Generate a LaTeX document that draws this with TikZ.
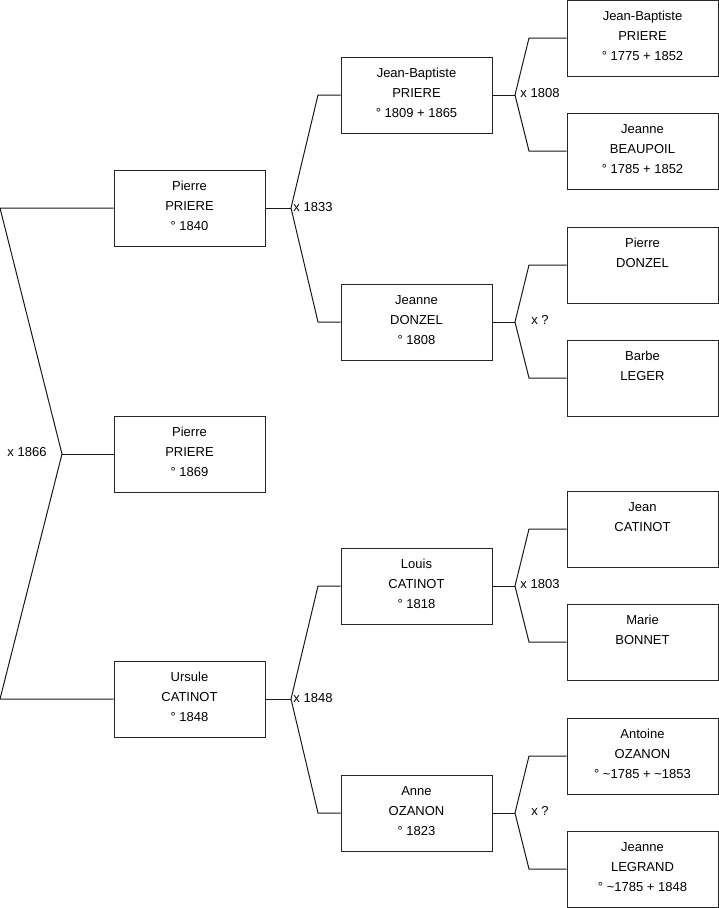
\documentclass[tikz,border=0pt]{standalone}
\usepackage{fontspec}
\setmainfont{Liberation Sans}
\newcommand\dpfix{\rule[-4.5pt]{0pt}{0pt}}
\begin{document}
\begin{tikzpicture}[x=1pt,y=-1pt]
\tikzset{
 person/.style={draw=black!85, line width=1pt, minimum width=151pt, minimum height=76pt, inner sep=0pt, align=center, font=\fontsize{13}{20}\selectfont},
 link/.style={draw=black!90, line width=1pt},
 mlabel/.style={font=\fontsize{13}{15}\selectfont, inner sep=0pt}
}
\useasboundingbox (0,0) rectangle (719,908);
% level 1
\node[person] (p1) at (189.5,208) {Pierre\\PRIERE\\° 1840\dpfix};
\node[person] (c)  at (189.5,454) {Pierre\\PRIERE\\° 1869\dpfix};
\node[person] (u1) at (189.5,699) {Ursule\\CATINOT\\° 1848\dpfix};
% level 2
\node[person] (jb) at (416.5,95)  {Jean-Baptiste\\PRIERE\\° 1809 + 1865\dpfix};
\node[person] (jd) at (416.5,322) {Jeanne\\DONZEL\\° 1808\dpfix};
\node[person] (lc) at (416.5,586) {Louis\\CATINOT\\° 1818\dpfix};
\node[person] (ao) at (416.5,813) {Anne\\OZANON\\° 1823\dpfix};
% level 3
\node[person] (jbp) at (642.5,38)  {Jean-Baptiste\\PRIERE\\° 1775 + 1852\dpfix};
\node[person] (jeb) at (642.5,151) {Jeanne\\BEAUPOIL\\° 1785 + 1852\dpfix};
\node[person] (pd)  at (642.5,265) {Pierre\\DONZEL\\\mbox{}\dpfix};
\node[person] (bl)  at (642.5,378) {Barbe\\LEGER\\\mbox{}\dpfix};
\node[person] (jc)  at (642.5,529) {Jean\\CATINOT\\\mbox{}\dpfix};
\node[person] (mb)  at (642.5,642) {Marie\\BONNET\\\mbox{}\dpfix};
\node[person] (ant) at (642.5,756) {Antoine\\OZANON\\° \textasciitilde1785 + \textasciitilde1853\dpfix};
\node[person] (jl)  at (642.5,869) {Jeanne\\LEGRAND\\° \textasciitilde1785 + 1848\dpfix};
% root union
\coordinate (r1) at (0,208);
\coordinate (rv) at (62,454);
\coordinate (r2) at (0,699);
\draw[link] (p1.west) -- (r1) -- (rv) -- (r2) -- (u1.west);
\draw[link] (rv) -- (c.west);
\node[mlabel] (l1866) at (27,452) {x 1866};
% Pierre's parents
\coordinate (v1) at (291,208);
\coordinate (v1a) at (318,95);
\coordinate (v1b) at (318,322);
\draw[link] (p1.east) -- (v1);
\draw[link] (jb.west) -- (v1a) -- (v1) -- (v1b) -- (jd.west);
\node[mlabel] (l1833) at (313,207) {x 1833};
% Ursule's parents
\coordinate (v2) at (291,699);
\coordinate (v2a) at (318,586);
\coordinate (v2b) at (318,813);
\draw[link] (u1.east) -- (v2);
\draw[link] (lc.west) -- (v2a) -- (v2) -- (v2b) -- (ao.west);
\node[mlabel] (l1848) at (313,698) {x 1848};
% JB's parents
\coordinate (v3) at (515,95);
\coordinate (v3a) at (529,38);
\coordinate (v3b) at (529,151);
\draw[link] (jb.east) -- (v3);
\draw[link] (jbp.west) -- (v3a) -- (v3) -- (v3b) -- (jeb.west);
\node[mlabel] (l1808) at (540,93) {x 1808};
% Jeanne DONZEL's parents
\coordinate (v4) at (515,322);
\coordinate (v4a) at (529,265);
\coordinate (v4b) at (529,378);
\draw[link] (jd.east) -- (v4);
\draw[link] (pd.west) -- (v4a) -- (v4) -- (v4b) -- (bl.west);
\node[mlabel] (lq1) at (540,320) {x ?};
% Louis's parents
\coordinate (v5) at (515,586);
\coordinate (v5a) at (529,529);
\coordinate (v5b) at (529,642);
\draw[link] (lc.east) -- (v5);
\draw[link] (jc.west) -- (v5a) -- (v5) -- (v5b) -- (mb.west);
\node[mlabel] (l1803) at (540,584) {x 1803};
% Anne's parents
\coordinate (v6) at (515,813);
\coordinate (v6a) at (529,756);
\coordinate (v6b) at (529,869);
\draw[link] (ao.east) -- (v6);
\draw[link] (ant.west) -- (v6a) -- (v6) -- (v6b) -- (jl.west);
\node[mlabel] (lq2) at (540,811) {x ?};
\end{tikzpicture}
\end{document}
